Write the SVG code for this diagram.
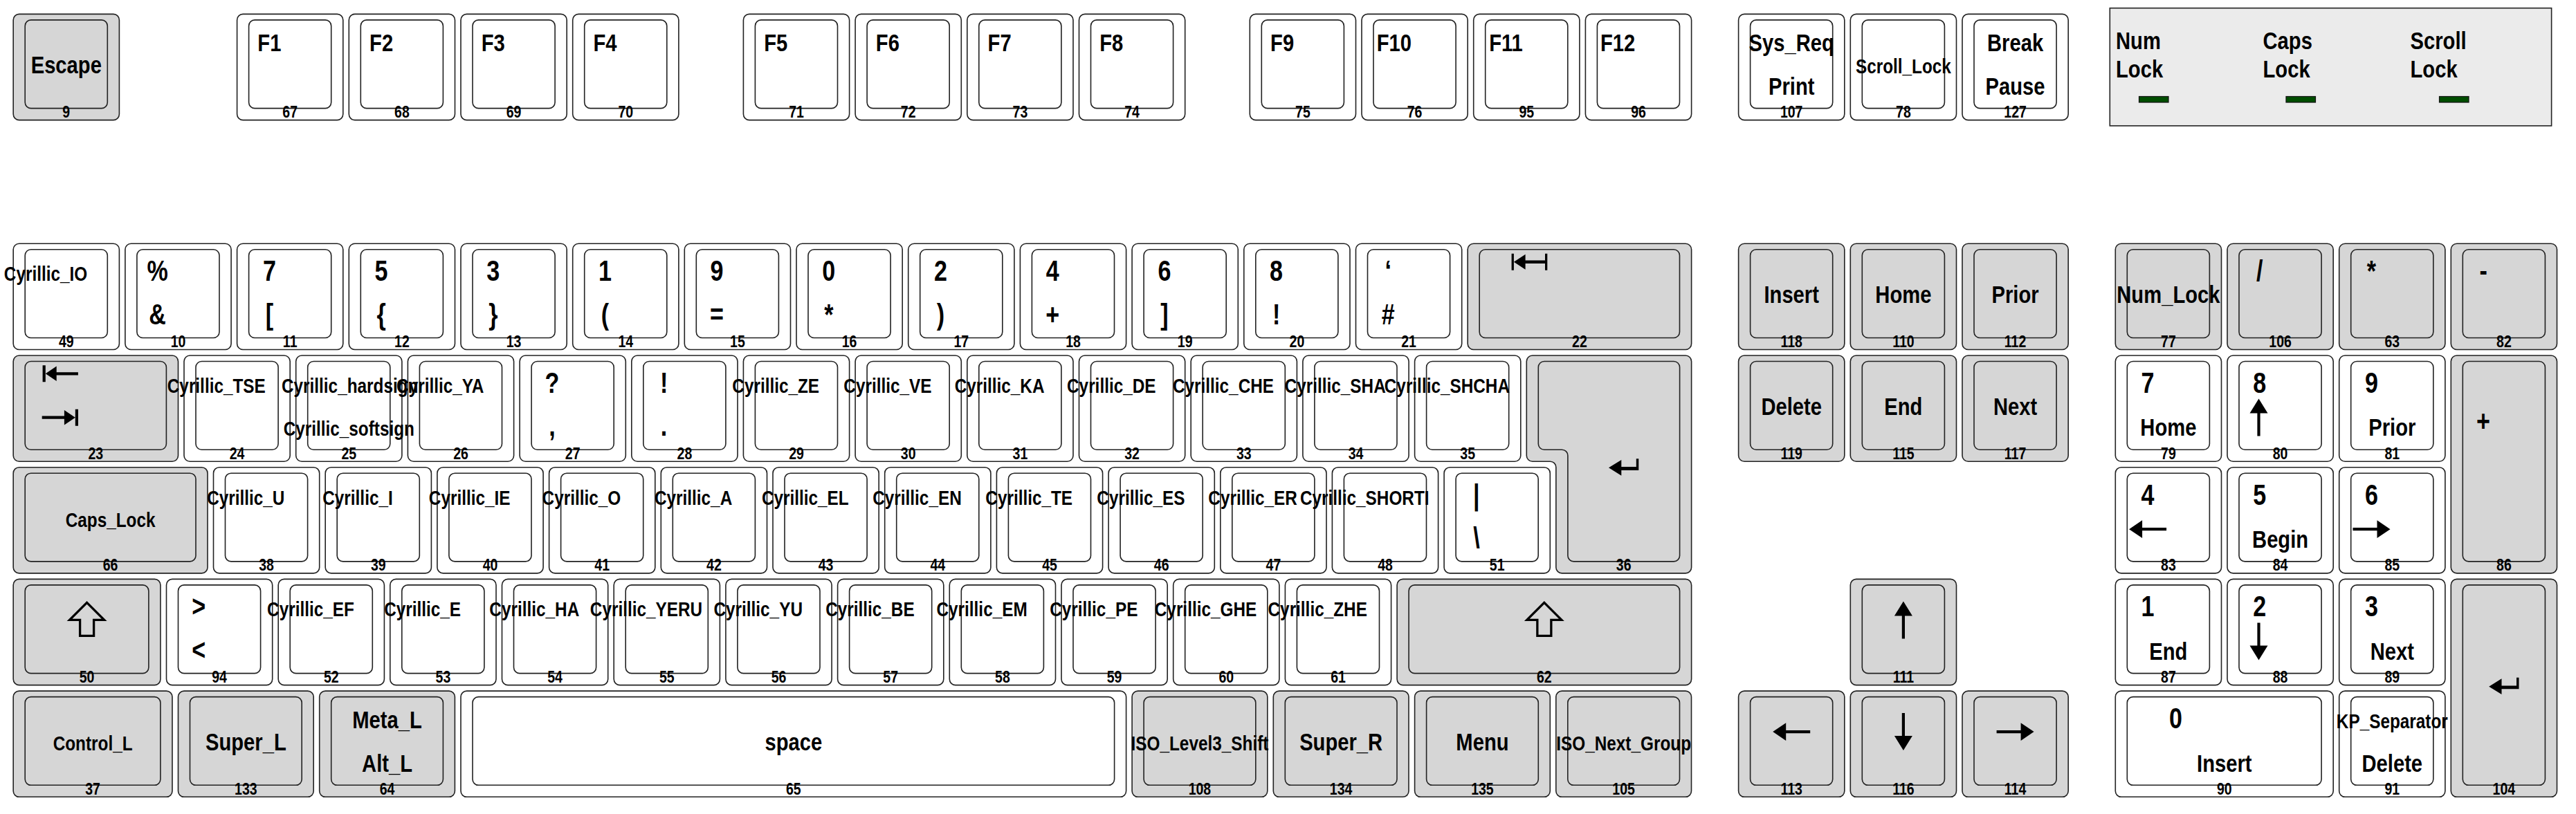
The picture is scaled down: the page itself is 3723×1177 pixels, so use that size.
<svg xmlns="http://www.w3.org/2000/svg" width="3723" height="1177" viewBox="0 0 3723 1177">
<style>
.o,.i{stroke:#222;stroke-width:1.6}
.g{fill:#d6d6d6}
.w{fill:none}
text{font-family:"Liberation Sans",Arial,Helvetica,sans-serif;font-weight:bold;text-anchor:middle;fill:#000;stroke:none}
.a{font-size:41.6px}
.b{font-size:35.6px}
.c{font-size:29.7px}
.k{font-size:23.8px}
.lt{text-anchor:start;font-size:35.6px}
.sym{fill:#000;stroke:none}
.hol{fill:none;stroke:#000;stroke-width:3.3}
</style>
<defs>
<g id="N"><rect class="o" width="153.2" height="153.2" rx="8.5"/><rect class="i" x="17" y="8.5" width="119.1" height="127.7" rx="8.5"/></g>
<g id="BKSP"><rect class="o" width="323.4" height="153.2" rx="8.5"/><rect class="i" x="17" y="8.5" width="289.3" height="127.7" rx="8.5"/></g>
<g id="TABK"><rect class="o" width="238.3" height="153.2" rx="8.5"/><rect class="i" x="17" y="8.5" width="204.2" height="127.7" rx="8.5"/></g>
<g id="CAPS"><rect class="o" width="280.8" height="153.2" rx="8.5"/><rect class="i" x="17" y="8.5" width="246.8" height="127.7" rx="8.5"/></g>
<g id="LFSH"><rect class="o" width="212.75" height="153.2" rx="8.5"/><rect class="i" x="17" y="8.5" width="178.7" height="127.7" rx="8.5"/></g>
<g id="RTSH"><rect class="o" width="425.5" height="153.2" rx="8.5"/><rect class="i" x="17" y="8.5" width="391.5" height="127.7" rx="8.5"/></g>
<g id="MODK"><rect class="o" width="229.8" height="153.2" rx="8.5"/><rect class="i" x="17" y="8.5" width="195.7" height="127.7" rx="8.5"/></g>
<g id="SMOD"><rect class="o" width="195.7" height="153.2" rx="8.5"/><rect class="i" x="17" y="8.5" width="161.7" height="127.7" rx="8.5"/></g>
<g id="SPCE"><rect class="o" width="961.6" height="153.2" rx="8.5"/><rect class="i" x="17" y="8.5" width="927.6" height="127.7" rx="8.5"/></g>
<g id="KP0"><rect class="o" width="314.9" height="153.2" rx="8.5"/><rect class="i" x="17" y="8.5" width="280.8" height="127.7" rx="8.5"/></g>
<g id="KPAD"><rect class="o" width="153.2" height="314.9" rx="8.5"/><rect class="i" x="17" y="8.5" width="119.1" height="289.4" rx="8.5"/></g>
<g id="RTRN"><path class="o" d="M8.5,0 H229.8 A8.5,8.5 0 0 1 238.3,8.5 V306.4 A8.5,8.5 0 0 1 229.8,314.9 H51.05 A8.5,8.5 0 0 1 42.55,306.4 V161.7 A8.5,8.5 0 0 0 34.05,153.2 H8.5 A8.5,8.5 0 0 1 0,144.7 V8.5 A8.5,8.5 0 0 1 8.5,0 Z"/><path class="i" d="M25.5,8.5 H212.8 A8.5,8.5 0 0 1 221.3,17 V289.4 A8.5,8.5 0 0 1 212.8,297.9 H68.1 A8.5,8.5 0 0 1 59.6,289.4 V144.7 A8.5,8.5 0 0 0 51.1,136.2 H25.5 A8.5,8.5 0 0 1 17,127.7 V17 A8.5,8.5 0 0 1 25.5,8.5 Z"/></g>
<path id="aL" class="sym" d="M-27,-27 L-8,-39.9 V-29.1 H27 V-24.9 H-8 V-14.1 Z"/>
<path id="aR" class="sym" d="M27,-27 L8,-39.9 V-29.1 H-27 V-24.9 H8 V-14.1 Z"/>
<path id="aU" class="sym" d="M0,-54 L13,-33 H2.1 V0 H-2.1 V-33 H-13 Z"/>
<path id="aD" class="sym" d="M0,0 L13,-21 H2.1 V-54 H-2.1 V-21 H-13 Z"/>
<path id="tabL" class="sym" d="M-25.7,-39.7 h4.2 v24 h-4.2 Z M-21.5,-27.7 L-5.6,-38.4 V-29.85 H25.6 V-25.55 H-5.6 V-17 Z"/>
<path id="tabR" class="sym" d="M21.5,-38.8 h4.2 v24 h-4.2 Z M21.5,-26.8 L5.6,-37.5 V-28.95 H-26.6 V-24.65 H5.6 V-16.1 Z"/>
<path id="bksp" class="sym" d="M-26,-39.6 h3.3 v24 h-3.3 Z M-22.7,-27.6 L-6,-38.6 V-29.8 H24 V-25.4 H-6 V-16.6 Z M22.4,-39.6 h3.3 v24 h-3.3 Z"/>
<path id="ret" class="sym" d="M-21.7,0 L-3.4,-11.4 V-1.2 H18.1 V-13 H21.6 V3.6 H-3.4 V11.4 Z"/>
<path id="shf" class="hol" d="M0,-52 L25,-27 H10 V-4 H-10 V-27 H-25 Z"/>
</defs>
<rect width="3723" height="1177" fill="#ffffff"/>

<g id="leds">
<rect x="3049.3" y="11.7" width="638.3" height="170.2" fill="#ebebeb" stroke="#222" stroke-width="1.6"/>
<text class="lt" transform="matrix(.82,0,0,1,3058,70.7)">Num</text><text class="lt" transform="matrix(.82,0,0,1,3058,111.7)">Lock</text>
<text class="lt" transform="matrix(.82,0,0,1,3270.5,70.7)">Caps</text><text class="lt" transform="matrix(.82,0,0,1,3270.5,111.7)">Lock</text>
<text class="lt" transform="matrix(.82,0,0,1,3483.5,70.7)">Scroll</text><text class="lt" transform="matrix(.82,0,0,1,3483.5,111.7)">Lock</text>
<rect x="3091.5" y="139.5" width="42.5" height="8.5" fill="#004d00" stroke="#111" stroke-width="1.2"/>
<rect x="3304" y="139.5" width="42.5" height="8.5" fill="#004d00" stroke="#111" stroke-width="1.2"/>
<rect x="3525.5" y="139.5" width="42.5" height="8.5" fill="#004d00" stroke="#111" stroke-width="1.2"/>
</g>

<g id="function-row">
<g id="k9" class="g" transform="translate(19.2,20.4)"><use href="#N"/><g transform="scale(.82,1)"><text class="b" x="93.41" y="86">Escape</text><text class="k" x="93.41" y="149.8">9</text></g></g>
<g id="k67" class="w" transform="translate(342.6,20.4)"><use href="#N"/><g transform="scale(.82,1)"><text class="b" x="57.07" y="54">F1</text><text class="k" x="93.41" y="149.8">67</text></g></g>
<g id="k68" class="w" transform="translate(504.3,20.4)"><use href="#N"/><g transform="scale(.82,1)"><text class="b" x="57.07" y="54">F2</text><text class="k" x="93.41" y="149.8">68</text></g></g>
<g id="k69" class="w" transform="translate(666,20.4)"><use href="#N"/><g transform="scale(.82,1)"><text class="b" x="57.07" y="54">F3</text><text class="k" x="93.41" y="149.8">69</text></g></g>
<g id="k70" class="w" transform="translate(827.7,20.4)"><use href="#N"/><g transform="scale(.82,1)"><text class="b" x="57.07" y="54">F4</text><text class="k" x="93.41" y="149.8">70</text></g></g>
<g id="k71" class="w" transform="translate(1074.4,20.4)"><use href="#N"/><g transform="scale(.82,1)"><text class="b" x="57.07" y="54">F5</text><text class="k" x="93.41" y="149.8">71</text></g></g>
<g id="k72" class="w" transform="translate(1236.1,20.4)"><use href="#N"/><g transform="scale(.82,1)"><text class="b" x="57.07" y="54">F6</text><text class="k" x="93.41" y="149.8">72</text></g></g>
<g id="k73" class="w" transform="translate(1397.8,20.4)"><use href="#N"/><g transform="scale(.82,1)"><text class="b" x="57.07" y="54">F7</text><text class="k" x="93.41" y="149.8">73</text></g></g>
<g id="k74" class="w" transform="translate(1559.5,20.4)"><use href="#N"/><g transform="scale(.82,1)"><text class="b" x="57.07" y="54">F8</text><text class="k" x="93.41" y="149.8">74</text></g></g>
<g id="k75" class="w" transform="translate(1806.3,20.4)"><use href="#N"/><g transform="scale(.82,1)"><text class="b" x="57.07" y="54">F9</text><text class="k" x="93.41" y="149.8">75</text></g></g>
<g id="k76" class="w" transform="translate(1968,20.4)"><use href="#N"/><g transform="scale(.82,1)"><text class="b" x="57.07" y="54">F10</text><text class="k" x="93.41" y="149.8">76</text></g></g>
<g id="k95" class="w" transform="translate(2129.7,20.4)"><use href="#N"/><g transform="scale(.82,1)"><text class="b" x="57.07" y="54">F11</text><text class="k" x="93.41" y="149.8">95</text></g></g>
<g id="k96" class="w" transform="translate(2291.4,20.4)"><use href="#N"/><g transform="scale(.82,1)"><text class="b" x="57.07" y="54">F12</text><text class="k" x="93.41" y="149.8">96</text></g></g>
<g id="k107" class="w" transform="translate(2512.6,20.4)"><use href="#N"/><g transform="scale(.82,1)"><text class="b" x="93.41" y="54">Sys_Req</text><text class="b" x="93.41" y="116.5">Print</text><text class="k" x="93.41" y="149.8">107</text></g></g>
<g id="k78" class="w" transform="translate(2674.3,20.4)"><use href="#N"/><g transform="scale(.82,1)"><text class="c" x="93.41" y="86">Scroll_Lock</text><text class="k" x="93.41" y="149.8">78</text></g></g>
<g id="k127" class="w" transform="translate(2836,20.4)"><use href="#N"/><g transform="scale(.82,1)"><text class="b" x="93.41" y="54">Break</text><text class="b" x="93.41" y="116.5">Pause</text><text class="k" x="93.41" y="149.8">127</text></g></g>
</g>

<g id="alpha-row1">
<g id="k49" class="w" transform="translate(19.2,352.3)"><use href="#N"/><g transform="scale(.82,1)"><text class="c" x="57.07" y="54">Cyrillic_IO</text><text class="k" x="93.41" y="149.8">49</text></g></g>
<g id="k10" class="w" transform="translate(180.9,352.3)"><use href="#N"/><g transform="scale(.82,1)"><text class="a" x="57.07" y="54">%</text><text class="a" x="57.07" y="116.5">&amp;</text><text class="k" x="93.41" y="149.8">10</text></g></g>
<g id="k11" class="w" transform="translate(342.6,352.3)"><use href="#N"/><g transform="scale(.82,1)"><text class="a" x="57.07" y="54">7</text><text class="a" x="57.07" y="116.5">[</text><text class="k" x="93.41" y="149.8">11</text></g></g>
<g id="k12" class="w" transform="translate(504.3,352.3)"><use href="#N"/><g transform="scale(.82,1)"><text class="a" x="57.07" y="54">5</text><text class="a" x="57.07" y="116.5">{</text><text class="k" x="93.41" y="149.8">12</text></g></g>
<g id="k13" class="w" transform="translate(666,352.3)"><use href="#N"/><g transform="scale(.82,1)"><text class="a" x="57.07" y="54">3</text><text class="a" x="57.07" y="116.5">}</text><text class="k" x="93.41" y="149.8">13</text></g></g>
<g id="k14" class="w" transform="translate(827.7,352.3)"><use href="#N"/><g transform="scale(.82,1)"><text class="a" x="57.07" y="54">1</text><text class="a" x="57.07" y="116.5">(</text><text class="k" x="93.41" y="149.8">14</text></g></g>
<g id="k15" class="w" transform="translate(989.3,352.3)"><use href="#N"/><g transform="scale(.82,1)"><text class="a" x="57.07" y="54">9</text><text class="a" x="57.07" y="116.5">=</text><text class="k" x="93.41" y="149.8">15</text></g></g>
<g id="k16" class="w" transform="translate(1151,352.3)"><use href="#N"/><g transform="scale(.82,1)"><text class="a" x="57.07" y="54">0</text><text class="a" x="57.07" y="116.5">*</text><text class="k" x="93.41" y="149.8">16</text></g></g>
<g id="k17" class="w" transform="translate(1312.7,352.3)"><use href="#N"/><g transform="scale(.82,1)"><text class="a" x="57.07" y="54">2</text><text class="a" x="57.07" y="116.5">)</text><text class="k" x="93.41" y="149.8">17</text></g></g>
<g id="k18" class="w" transform="translate(1474.4,352.3)"><use href="#N"/><g transform="scale(.82,1)"><text class="a" x="57.07" y="54">4</text><text class="a" x="57.07" y="116.5">+</text><text class="k" x="93.41" y="149.8">18</text></g></g>
<g id="k19" class="w" transform="translate(1636.1,352.3)"><use href="#N"/><g transform="scale(.82,1)"><text class="a" x="57.07" y="54">6</text><text class="a" x="57.07" y="116.5">]</text><text class="k" x="93.41" y="149.8">19</text></g></g>
<g id="k20" class="w" transform="translate(1797.8,352.3)"><use href="#N"/><g transform="scale(.82,1)"><text class="a" x="57.07" y="54">8</text><text class="a" x="57.07" y="116.5">!</text><text class="k" x="93.41" y="149.8">20</text></g></g>
<g id="k21" class="w" transform="translate(1959.5,352.3)"><use href="#N"/><g transform="scale(.82,1)"><text class="a" x="57.07" y="54">‘</text><text class="a" x="57.07" y="116.5">#</text><text class="k" x="93.41" y="149.8">21</text></g></g>
<g id="k22" class="g" transform="translate(2121.2,352.3)"><use href="#BKSP"/><use href="#bksp" x="89.4" y="54"/><g transform="scale(.82,1)"><text class="k" x="197.2" y="149.8">22</text></g></g>
</g>

<g id="alpha-row2">
<g id="k23" class="g" transform="translate(19.2,514)"><use href="#TABK"/><use href="#tabL" x="68.1" y="54"/><use href="#tabR" x="68.1" y="116.5"/><g transform="scale(.82,1)"><text class="k" x="145.3" y="149.8">23</text></g></g>
<g id="k24" class="w" transform="translate(266,514)"><use href="#N"/><g transform="scale(.82,1)"><text class="c" x="57.07" y="54">Cyrillic_TSE</text><text class="k" x="93.41" y="149.8">24</text></g></g>
<g id="k25" class="w" transform="translate(427.7,514)"><use href="#N"/><g transform="scale(.82,1)"><text class="c" x="95.12" y="54">Cyrillic_hardsign</text><text class="c" x="93.41" y="116.5">Cyrillic_softsign</text><text class="k" x="93.41" y="149.8">25</text></g></g>
<g id="k26" class="w" transform="translate(589.4,514)"><use href="#N"/><g transform="scale(.82,1)"><text class="c" x="57.07" y="54">Cyrillic_YA</text><text class="k" x="93.41" y="149.8">26</text></g></g>
<g id="k27" class="w" transform="translate(751.1,514)"><use href="#N"/><g transform="scale(.82,1)"><text class="a" x="57.07" y="54">?</text><text class="a" x="57.07" y="116.5">,</text><text class="k" x="93.41" y="149.8">27</text></g></g>
<g id="k28" class="w" transform="translate(912.8,514)"><use href="#N"/><g transform="scale(.82,1)"><text class="a" x="57.07" y="54">!</text><text class="a" x="57.07" y="116.5">.</text><text class="k" x="93.41" y="149.8">28</text></g></g>
<g id="k29" class="w" transform="translate(1074.4,514)"><use href="#N"/><g transform="scale(.82,1)"><text class="c" x="57.07" y="54">Cyrillic_ZE</text><text class="k" x="93.41" y="149.8">29</text></g></g>
<g id="k30" class="w" transform="translate(1236.1,514)"><use href="#N"/><g transform="scale(.82,1)"><text class="c" x="57.07" y="54">Cyrillic_VE</text><text class="k" x="93.41" y="149.8">30</text></g></g>
<g id="k31" class="w" transform="translate(1397.8,514)"><use href="#N"/><g transform="scale(.82,1)"><text class="c" x="57.07" y="54">Cyrillic_KA</text><text class="k" x="93.41" y="149.8">31</text></g></g>
<g id="k32" class="w" transform="translate(1559.5,514)"><use href="#N"/><g transform="scale(.82,1)"><text class="c" x="57.07" y="54">Cyrillic_DE</text><text class="k" x="93.41" y="149.8">32</text></g></g>
<g id="k33" class="w" transform="translate(1721.2,514)"><use href="#N"/><g transform="scale(.82,1)"><text class="c" x="57.07" y="54">Cyrillic_CHE</text><text class="k" x="93.41" y="149.8">33</text></g></g>
<g id="k34" class="w" transform="translate(1882.9,514)"><use href="#N"/><g transform="scale(.82,1)"><text class="c" x="57.07" y="54">Cyrillic_SHA</text><text class="k" x="93.41" y="149.8">34</text></g></g>
<g id="k35" class="w" transform="translate(2044.6,514)"><use href="#N"/><g transform="scale(.82,1)"><text class="c" x="57.07" y="54">Cyrillic_SHCHA</text><text class="k" x="93.41" y="149.8">35</text></g></g>
<g id="k36" class="g" transform="translate(2206.3,514)"><use href="#RTRN"/><use href="#ret" x="140.4" y="162.3"/><g transform="scale(.82,1)"><text class="k" x="171.22" y="311.5">36</text></g></g>
</g>

<g id="alpha-row3">
<g id="k66" class="g" transform="translate(19.2,675.7)"><use href="#CAPS"/><g transform="scale(.82,1)"><text class="c" x="171.22" y="86">Caps_Lock</text><text class="k" x="171.22" y="149.8">66</text></g></g>
<g id="k38" class="w" transform="translate(308.5,675.7)"><use href="#N"/><g transform="scale(.82,1)"><text class="c" x="57.07" y="54">Cyrillic_U</text><text class="k" x="93.41" y="149.8">38</text></g></g>
<g id="k39" class="w" transform="translate(470.2,675.7)"><use href="#N"/><g transform="scale(.82,1)"><text class="c" x="57.07" y="54">Cyrillic_I</text><text class="k" x="93.41" y="149.8">39</text></g></g>
<g id="k40" class="w" transform="translate(631.9,675.7)"><use href="#N"/><g transform="scale(.82,1)"><text class="c" x="57.07" y="54">Cyrillic_IE</text><text class="k" x="93.41" y="149.8">40</text></g></g>
<g id="k41" class="w" transform="translate(793.6,675.7)"><use href="#N"/><g transform="scale(.82,1)"><text class="c" x="57.07" y="54">Cyrillic_O</text><text class="k" x="93.41" y="149.8">41</text></g></g>
<g id="k42" class="w" transform="translate(955.3,675.7)"><use href="#N"/><g transform="scale(.82,1)"><text class="c" x="57.07" y="54">Cyrillic_A</text><text class="k" x="93.41" y="149.8">42</text></g></g>
<g id="k43" class="w" transform="translate(1117,675.7)"><use href="#N"/><g transform="scale(.82,1)"><text class="c" x="57.07" y="54">Cyrillic_EL</text><text class="k" x="93.41" y="149.8">43</text></g></g>
<g id="k44" class="w" transform="translate(1278.7,675.7)"><use href="#N"/><g transform="scale(.82,1)"><text class="c" x="57.07" y="54">Cyrillic_EN</text><text class="k" x="93.41" y="149.8">44</text></g></g>
<g id="k45" class="w" transform="translate(1440.4,675.7)"><use href="#N"/><g transform="scale(.82,1)"><text class="c" x="57.07" y="54">Cyrillic_TE</text><text class="k" x="93.41" y="149.8">45</text></g></g>
<g id="k46" class="w" transform="translate(1602.1,675.7)"><use href="#N"/><g transform="scale(.82,1)"><text class="c" x="57.07" y="54">Cyrillic_ES</text><text class="k" x="93.41" y="149.8">46</text></g></g>
<g id="k47" class="w" transform="translate(1763.8,675.7)"><use href="#N"/><g transform="scale(.82,1)"><text class="c" x="57.07" y="54">Cyrillic_ER</text><text class="k" x="93.41" y="149.8">47</text></g></g>
<g id="k48" class="w" transform="translate(1925.4,675.7)"><use href="#N"/><g transform="scale(.82,1)"><text class="c" x="57.07" y="54">Cyrillic_SHORTI</text><text class="k" x="93.41" y="149.8">48</text></g></g>
<g id="k51" class="w" transform="translate(2087.1,675.7)"><use href="#N"/><g transform="scale(.82,1)"><text class="a" x="57.07" y="54">|</text><text class="a" x="57.07" y="116.5">\</text><text class="k" x="93.41" y="149.8">51</text></g></g>
</g>

<g id="alpha-row4">
<g id="k50" class="g" transform="translate(19.2,837.4)"><use href="#LFSH"/><use href="#shf" x="106.4" y="86"/><g transform="scale(.82,1)"><text class="k" x="129.76" y="149.8">50</text></g></g>
<g id="k94" class="w" transform="translate(240.5,837.4)"><use href="#N"/><g transform="scale(.82,1)"><text class="a" x="57.07" y="54">&gt;</text><text class="a" x="57.07" y="116.5">&lt;</text><text class="k" x="93.41" y="149.8">94</text></g></g>
<g id="k52" class="w" transform="translate(402.2,837.4)"><use href="#N"/><g transform="scale(.82,1)"><text class="c" x="57.07" y="54">Cyrillic_EF</text><text class="k" x="93.41" y="149.8">52</text></g></g>
<g id="k53" class="w" transform="translate(563.8,837.4)"><use href="#N"/><g transform="scale(.82,1)"><text class="c" x="57.07" y="54">Cyrillic_E</text><text class="k" x="93.41" y="149.8">53</text></g></g>
<g id="k54" class="w" transform="translate(725.5,837.4)"><use href="#N"/><g transform="scale(.82,1)"><text class="c" x="57.07" y="54">Cyrillic_HA</text><text class="k" x="93.41" y="149.8">54</text></g></g>
<g id="k55" class="w" transform="translate(887.2,837.4)"><use href="#N"/><g transform="scale(.82,1)"><text class="c" x="57.07" y="54">Cyrillic_YERU</text><text class="k" x="93.41" y="149.8">55</text></g></g>
<g id="k56" class="w" transform="translate(1048.9,837.4)"><use href="#N"/><g transform="scale(.82,1)"><text class="c" x="57.07" y="54">Cyrillic_YU</text><text class="k" x="93.41" y="149.8">56</text></g></g>
<g id="k57" class="w" transform="translate(1210.6,837.4)"><use href="#N"/><g transform="scale(.82,1)"><text class="c" x="57.07" y="54">Cyrillic_BE</text><text class="k" x="93.41" y="149.8">57</text></g></g>
<g id="k58" class="w" transform="translate(1372.3,837.4)"><use href="#N"/><g transform="scale(.82,1)"><text class="c" x="57.07" y="54">Cyrillic_EM</text><text class="k" x="93.41" y="149.8">58</text></g></g>
<g id="k59" class="w" transform="translate(1534,837.4)"><use href="#N"/><g transform="scale(.82,1)"><text class="c" x="57.07" y="54">Cyrillic_PE</text><text class="k" x="93.41" y="149.8">59</text></g></g>
<g id="k60" class="w" transform="translate(1695.7,837.4)"><use href="#N"/><g transform="scale(.82,1)"><text class="c" x="57.07" y="54">Cyrillic_GHE</text><text class="k" x="93.41" y="149.8">60</text></g></g>
<g id="k61" class="w" transform="translate(1857.4,837.4)"><use href="#N"/><g transform="scale(.82,1)"><text class="c" x="57.07" y="54">Cyrillic_ZHE</text><text class="k" x="93.41" y="149.8">61</text></g></g>
<g id="k62" class="g" transform="translate(2019.1,837.4)"><use href="#RTSH"/><use href="#shf" x="212.75" y="86"/><g transform="scale(.82,1)"><text class="k" x="259.45" y="149.8">62</text></g></g>
</g>

<g id="alpha-row5">
<g id="k37" class="g" transform="translate(19.2,999.1)"><use href="#MODK"/><g transform="scale(.82,1)"><text class="c" x="140.12" y="86">Control_L</text><text class="k" x="140.12" y="149.8">37</text></g></g>
<g id="k133" class="g" transform="translate(257.5,999.1)"><use href="#SMOD"/><g transform="scale(.82,1)"><text class="b" x="119.33" y="86">Super_L</text><text class="k" x="119.33" y="149.8">133</text></g></g>
<g id="k64" class="g" transform="translate(461.7,999.1)"><use href="#SMOD"/><g transform="scale(.82,1)"><text class="b" x="119.33" y="54">Meta_L</text><text class="b" x="119.33" y="116.5">Alt_L</text><text class="k" x="119.33" y="149.8">64</text></g></g>
<g id="k65" class="w" transform="translate(666,999.1)"><use href="#SPCE"/><g transform="scale(.82,1)"><text class="b" x="586.34" y="86">space</text><text class="k" x="586.34" y="149.8">65</text></g></g>
<g id="k108" class="g" transform="translate(1636.1,999.1)"><use href="#SMOD"/><g transform="scale(.82,1)"><text class="c" x="119.33" y="86">ISO_Level3_Shift</text><text class="k" x="119.33" y="149.8">108</text></g></g>
<g id="k134" class="g" transform="translate(1840.3,999.1)"><use href="#SMOD"/><g transform="scale(.82,1)"><text class="b" x="119.33" y="86">Super_R</text><text class="k" x="119.33" y="149.8">134</text></g></g>
<g id="k135" class="g" transform="translate(2044.6,999.1)"><use href="#SMOD"/><g transform="scale(.82,1)"><text class="b" x="119.33" y="86">Menu</text><text class="k" x="119.33" y="149.8">135</text></g></g>
<g id="k105" class="g" transform="translate(2248.8,999.1)"><use href="#SMOD"/><g transform="scale(.82,1)"><text class="c" x="119.33" y="86">ISO_Next_Group</text><text class="k" x="119.33" y="149.8">105</text></g></g>
</g>

<g id="editing">
<g id="k118" class="g" transform="translate(2512.6,352.3)"><use href="#N"/><g transform="scale(.82,1)"><text class="b" x="93.41" y="86">Insert</text><text class="k" x="93.41" y="149.8">118</text></g></g>
<g id="k110" class="g" transform="translate(2674.3,352.3)"><use href="#N"/><g transform="scale(.82,1)"><text class="b" x="93.41" y="86">Home</text><text class="k" x="93.41" y="149.8">110</text></g></g>
<g id="k112" class="g" transform="translate(2836,352.3)"><use href="#N"/><g transform="scale(.82,1)"><text class="b" x="93.41" y="86">Prior</text><text class="k" x="93.41" y="149.8">112</text></g></g>
<g id="k119" class="g" transform="translate(2512.6,514)"><use href="#N"/><g transform="scale(.82,1)"><text class="b" x="93.41" y="86">Delete</text><text class="k" x="93.41" y="149.8">119</text></g></g>
<g id="k115" class="g" transform="translate(2674.3,514)"><use href="#N"/><g transform="scale(.82,1)"><text class="b" x="93.41" y="86">End</text><text class="k" x="93.41" y="149.8">115</text></g></g>
<g id="k117" class="g" transform="translate(2836,514)"><use href="#N"/><g transform="scale(.82,1)"><text class="b" x="93.41" y="86">Next</text><text class="k" x="93.41" y="149.8">117</text></g></g>
<g id="k111" class="g" transform="translate(2674.3,837.4)"><use href="#N"/><use href="#aU" x="76.6" y="86"/><g transform="scale(.82,1)"><text class="k" x="93.41" y="149.8">111</text></g></g>
<g id="k113" class="g" transform="translate(2512.6,999.1)"><use href="#N"/><use href="#aL" x="76.6" y="86"/><g transform="scale(.82,1)"><text class="k" x="93.41" y="149.8">113</text></g></g>
<g id="k116" class="g" transform="translate(2674.3,999.1)"><use href="#N"/><use href="#aD" x="76.6" y="86"/><g transform="scale(.82,1)"><text class="k" x="93.41" y="149.8">116</text></g></g>
<g id="k114" class="g" transform="translate(2836,999.1)"><use href="#N"/><use href="#aR" x="76.6" y="86"/><g transform="scale(.82,1)"><text class="k" x="93.41" y="149.8">114</text></g></g>
</g>

<g id="keypad">
<g id="k77" class="g" transform="translate(3057.3,352.3)"><use href="#N"/><g transform="scale(.82,1)"><text class="b" x="93.41" y="86">Num_Lock</text><text class="k" x="93.41" y="149.8">77</text></g></g>
<g id="k106" class="g" transform="translate(3219,352.3)"><use href="#N"/><g transform="scale(.82,1)"><text class="a" x="57.07" y="54">/</text><text class="k" x="93.41" y="149.8">106</text></g></g>
<g id="k63" class="g" transform="translate(3380.7,352.3)"><use href="#N"/><g transform="scale(.82,1)"><text class="a" x="57.07" y="54">*</text><text class="k" x="93.41" y="149.8">63</text></g></g>
<g id="k82" class="g" transform="translate(3542.3,352.3)"><use href="#N"/><g transform="scale(.82,1)"><text class="a" x="57.07" y="54">-</text><text class="k" x="93.41" y="149.8">82</text></g></g>
<g id="k79" class="w" transform="translate(3057.3,514)"><use href="#N"/><g transform="scale(.82,1)"><text class="a" x="57.07" y="54">7</text><text class="b" x="93.41" y="116.5">Home</text><text class="k" x="93.41" y="149.8">79</text></g></g>
<g id="k80" class="w" transform="translate(3219,514)"><use href="#N"/><use href="#aU" x="45.5" y="116.5"/><g transform="scale(.82,1)"><text class="a" x="57.07" y="54">8</text><text class="k" x="93.41" y="149.8">80</text></g></g>
<g id="k81" class="w" transform="translate(3380.7,514)"><use href="#N"/><g transform="scale(.82,1)"><text class="a" x="57.07" y="54">9</text><text class="b" x="93.41" y="116.5">Prior</text><text class="k" x="93.41" y="149.8">81</text></g></g>
<g id="k86" class="g" transform="translate(3542.3,514)"><use href="#KPAD"/><g transform="scale(.82,1)"><text class="a" x="57.07" y="109">+</text><text class="k" x="93.41" y="311.5">86</text></g></g>
<g id="k83" class="w" transform="translate(3057.3,675.7)"><use href="#N"/><use href="#aL" x="46.8" y="116.5"/><g transform="scale(.82,1)"><text class="a" x="57.07" y="54">4</text><text class="k" x="93.41" y="149.8">83</text></g></g>
<g id="k84" class="w" transform="translate(3219,675.7)"><use href="#N"/><g transform="scale(.82,1)"><text class="a" x="57.07" y="54">5</text><text class="b" x="93.41" y="116.5">Begin</text><text class="k" x="93.41" y="149.8">84</text></g></g>
<g id="k85" class="w" transform="translate(3380.7,675.7)"><use href="#N"/><use href="#aR" x="46.8" y="116.5"/><g transform="scale(.82,1)"><text class="a" x="57.07" y="54">6</text><text class="k" x="93.41" y="149.8">85</text></g></g>
<g id="k87" class="w" transform="translate(3057.3,837.4)"><use href="#N"/><g transform="scale(.82,1)"><text class="a" x="57.07" y="54">1</text><text class="b" x="93.41" y="116.5">End</text><text class="k" x="93.41" y="149.8">87</text></g></g>
<g id="k88" class="w" transform="translate(3219,837.4)"><use href="#N"/><use href="#aD" x="45.5" y="117"/><g transform="scale(.82,1)"><text class="a" x="57.07" y="54">2</text><text class="k" x="93.41" y="149.8">88</text></g></g>
<g id="k89" class="w" transform="translate(3380.7,837.4)"><use href="#N"/><g transform="scale(.82,1)"><text class="a" x="57.07" y="54">3</text><text class="b" x="93.41" y="116.5">Next</text><text class="k" x="93.41" y="149.8">89</text></g></g>
<g id="k104" class="g" transform="translate(3542.3,837.4)"><use href="#KPAD"/><use href="#ret" x="76.6" y="155.3"/><g transform="scale(.82,1)"><text class="k" x="93.41" y="311.5">104</text></g></g>
<g id="k90" class="w" transform="translate(3057.3,999.1)"><use href="#KP0"/><g transform="scale(.82,1)"><text class="a" x="106.34" y="54">0</text><text class="b" x="192.07" y="116.5">Insert</text><text class="k" x="192.07" y="149.8">90</text></g></g>
<g id="k91" class="w" transform="translate(3380.7,999.1)"><use href="#N"/><g transform="scale(.82,1)"><text class="c" x="93.41" y="54">KP_Separator</text><text class="b" x="93.41" y="116.5">Delete</text><text class="k" x="93.41" y="149.8">91</text></g></g>
</g>
</svg>
